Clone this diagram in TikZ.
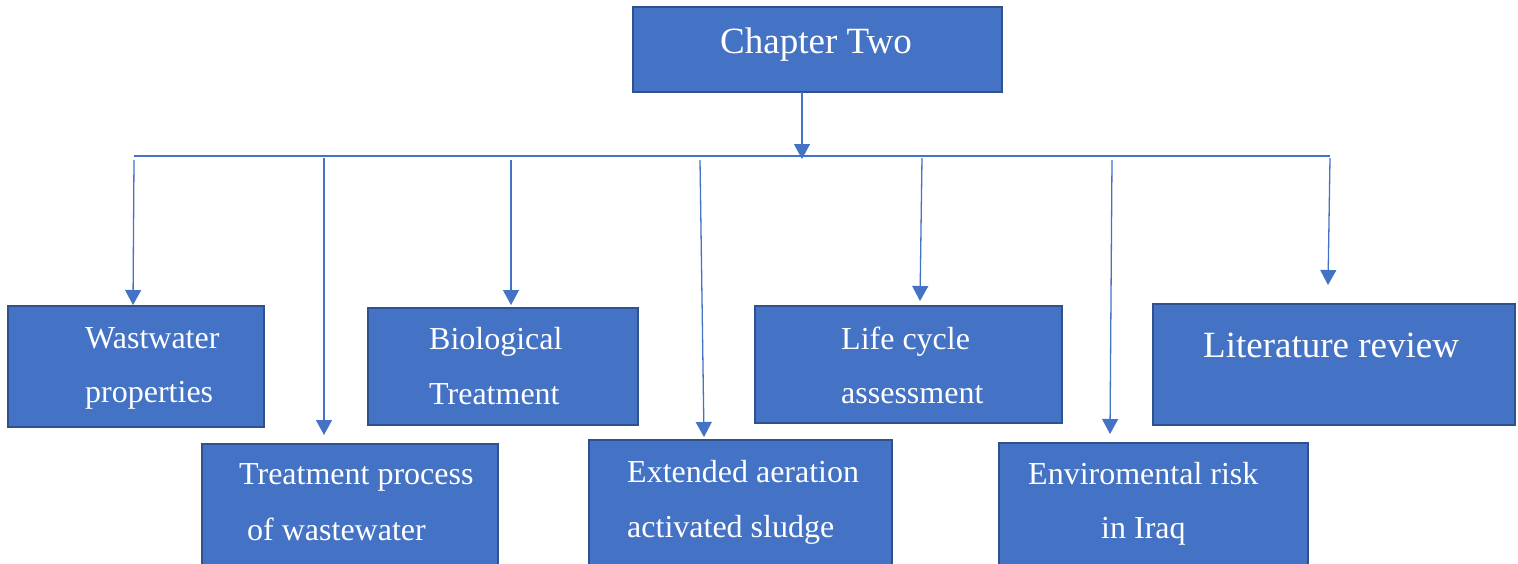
\documentclass[tikz,border=0pt]{standalone}
\usepackage{fontspec}
\setmainfont{Liberation Serif}
\usetikzlibrary{arrows.meta}
\definecolor{boxblue}{HTML}{4472C4}
\definecolor{boxedge}{HTML}{2F528F}
\definecolor{linkblue}{HTML}{4472C4}
\begin{document}
\begin{tikzpicture}[x=1pt,y=-1pt,
  box/.style={draw=boxedge, line width=1.5pt, fill=boxblue, inner sep=0pt, outer sep=0pt, anchor=north west},
  lbl/.style={text=white, font=\fontsize{32}{38}\selectfont, anchor=base west, inner sep=0pt},
  big/.style={text=white, font=\fontsize{37}{44}\selectfont, anchor=base west, inner sep=0pt},
  link/.style={draw=linkblue, line width=1.3pt},
  arr/.style={link, -{Triangle[width=16pt,length=15pt]}}]
\useasboundingbox (0,0) rectangle (1518,563);
% boxes
\node[box, minimum width=369pt, minimum height=85pt] (ch) at (633,7) {};
\node[box, minimum width=256pt, minimum height=121pt] (b1) at (8,306) {};
\node[box, minimum width=296pt, minimum height=130pt] (b2) at (202,444) {};
\node[box, minimum width=270pt, minimum height=117pt] (b3) at (368,308) {};
\node[box, minimum width=303pt, minimum height=130pt] (b4) at (589,440) {};
\node[box, minimum width=307pt, minimum height=117pt] (b5) at (755,306) {};
\node[box, minimum width=309pt, minimum height=130pt] (b6) at (999,443) {};
\node[box, minimum width=362pt, minimum height=121pt] (b7) at (1153,304) {};
% texts
\node[big] (tch) at (720,53) {Chapter Two};
\node[lbl] (t1a) at (85,348) {Wastwater};
\node[lbl] (t1b) at (85,402) {properties};
\node[lbl] (t2a) at (239,484) {Treatment process};
\node[lbl] (t2b) at (247,540) {of wastewater};
\node[lbl] (t3a) at (429,349) {Biological};
\node[lbl] (t3b) at (429,404) {Treatment};
\node[lbl] (t4a) at (627,482) {Extended aeration};
\node[lbl] (t4b) at (627,537) {activated sludge};
\node[lbl] (t5a) at (841,349) {Life cycle};
\node[lbl] (t5b) at (841,403) {assessment};
\node[lbl] (t6a) at (1028,484) {Enviromental risk};
\node[lbl] (t6b) at (1101,538) {in Iraq};
\node[big] (t7) at (1203,357) {Literature review};
% bus and coordinates
\coordinate (busL) at (134,156);
\coordinate (busR) at (1330,156);
\coordinate (m1) at (802,159);
\coordinate (s1) at (134,160);  \coordinate (e1) at (133,305);
\coordinate (s2) at (324,158);  \coordinate (e2) at (324,435);
\coordinate (s3) at (511,160);  \coordinate (e3) at (511,305);
\coordinate (s4) at (700,160);  \coordinate (e4) at (704,437);
\coordinate (s5) at (922,158);  \coordinate (e5) at (920,301);
\coordinate (s6) at (1112,160); \coordinate (e6) at (1110,434);
\coordinate (s7) at (1330,158); \coordinate (e7) at (1328,285);
\draw[link] (busL) -- (busR);
\draw[arr] (ch.south -| m1) -- (m1);
\draw[arr] (s1) -- (e1);
\draw[arr] (s2) -- (e2);
\draw[arr] (s3) -- (e3);
\draw[arr] (s4) -- (e4);
\draw[arr] (s5) -- (e5);
\draw[arr] (s6) -- (e6);
\draw[arr] (s7) -- (e7);
\end{tikzpicture}
\end{document}
